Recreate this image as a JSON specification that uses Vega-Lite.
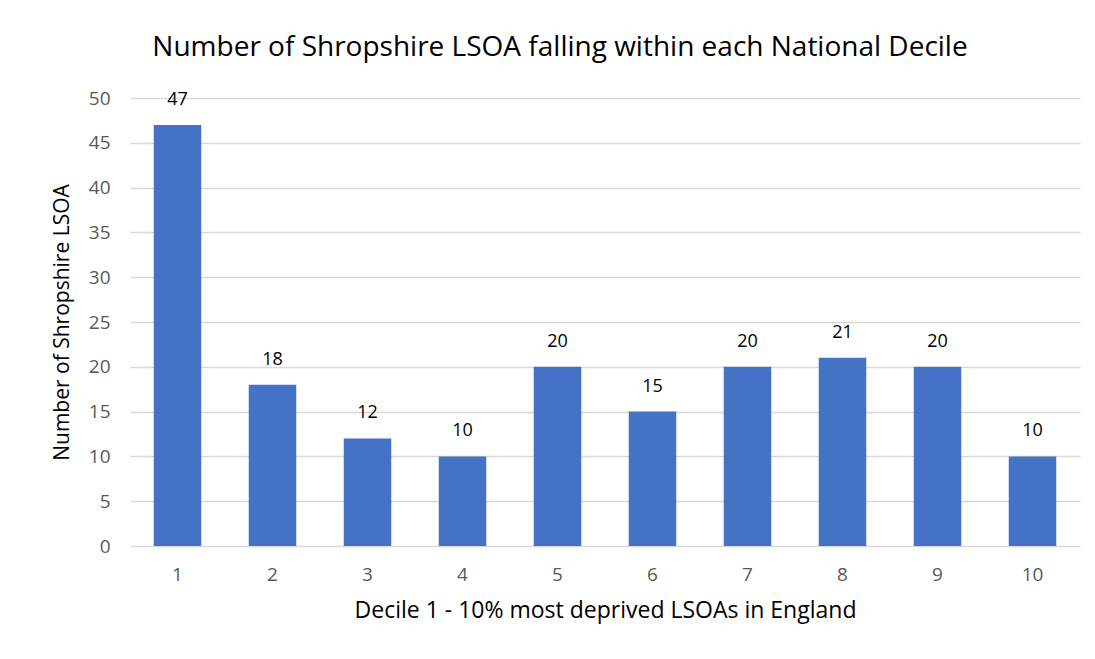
{
  "$schema": "https://vega.github.io/schema/vega-lite/v6.json",
  "autosize": "none",
  "width": 950,
  "height": 448,
  "padding": {"left": 130, "top": 98, "right": 15, "bottom": 113},
  "background": "white",
  "title": {
    "text": "Number  of Shropshire LSOA falling within each National Decile",
    "font": "Open Sans",
    "fontSize": 28,
    "fontWeight": "normal",
    "color": "#000000",
    "anchor": "middle",
    "dx": -45,
    "offset": 27
  },
  "data": {
    "values": [
      {"decile": "1", "count": 47},
      {"decile": "2", "count": 18},
      {"decile": "3", "count": 12},
      {"decile": "4", "count": 10},
      {"decile": "5", "count": 20},
      {"decile": "6", "count": 15},
      {"decile": "7", "count": 20},
      {"decile": "8", "count": 21},
      {"decile": "9", "count": 20},
      {"decile": "10", "count": 10}
    ]
  },
  "encoding": {
    "x": {
      "field": "decile",
      "type": "ordinal",
      "sort": null,
      "scale": {"paddingInner": 0.5, "paddingOuter": 0.25},
      "axis": {
        "title": "Decile 1 - 10% most deprived LSOAs in England",
        "titleFont": "Open Sans",
        "titleFontSize": 23,
        "titleFontWeight": "normal",
        "titleColor": "#000000",
        "titlePadding": 15,
        "labelAngle": 0,
        "labelFont": "Open Sans",
        "labelFontSize": 19,
        "labelColor": "#595959",
        "labelPadding": 19,
        "ticks": false,
        "domain": false
      }
    },
    "y": {
      "field": "count",
      "type": "quantitative",
      "scale": {"domain": [0, 50]},
      "axis": {
        "values": [0, 5, 10, 15, 20, 25, 30, 35, 40, 45, 50],
        "title": "Number  of Shropshire LSOA",
        "titleFont": "Open Sans",
        "titleFontSize": 21,
        "titleFontWeight": "normal",
        "titleColor": "#000000",
        "titlePadding": 16,
        "labelFont": "Open Sans",
        "labelFontSize": 19,
        "labelColor": "#595959",
        "labelPadding": 20,
        "ticks": false,
        "domain": false,
        "grid": true,
        "gridColor": "#d9d9d9",
        "gridWidth": 1.5
      }
    }
  },
  "layer": [
    {"mark": {"type": "bar", "color": "#4472c4"}},
    {
      "mark": {"type": "text", "dy": -16, "font": "Open Sans", "fontSize": 18, "color": "#000000", "baseline": "bottom"},
      "encoding": {"text": {"field": "count", "type": "quantitative"}}
    }
  ],
  "config": {"view": {"stroke": null}}
}
